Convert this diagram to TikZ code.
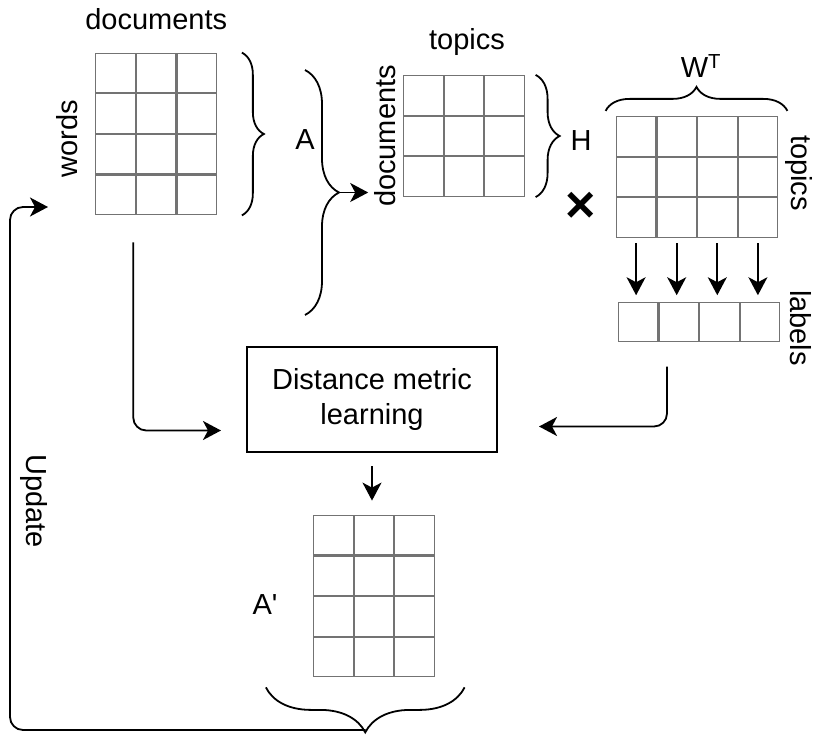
\documentclass[tikz,border=0pt]{standalone}
\usepackage{fontspec}
\setmainfont{Liberation Sans}
\usetikzlibrary{positioning, arrows.meta, matrix, decorations.pathreplacing}
\tikzset{
	x = 1pt,
	y = -1pt,
	font = \fontsize{29}{35}\selectfont,
	>={Stealth[length=18pt, width=19pt, inset=5pt]},
	cell/.style={
		draw=black,
		draw opacity=.55,
		line width=1.1pt,
		minimum size=39.5pt,
		inner sep=0pt,
		outer sep=0pt
	},
	grid/.style={
		matrix of nodes,
		nodes in empty cells,
		nodes={cell},
		column sep=0pt,
		row sep=0pt,
		inner sep=0pt
	},
	lbl/.style={inner sep=0pt},
	flow/.style={
		->,
		line width=1.8pt,
		rounded corners=13pt
	},
	brace/.style={
		decorate,
		decoration={brace, amplitude=#1},
		line width=1.8pt
	},
	process/.style={
		draw,
		line width=2pt,
		minimum width=250pt,
		minimum height=105pt,
		align=center
	}
}

\begin{document}
\begin{tikzpicture}
	\useasboundingbox (0,0) rectangle (814,735);

	% matrices
	\matrix (A) [grid] at (156.25,134) {& & \\ & & \\ & & \\ & & \\};
	\matrix (H) [grid] at (464,136) {& & \\ & & \\ & & \\};
	\matrix (W) [grid] at (697,177) {& & & \\ & & & \\ & & & \\};
	\matrix (L) [grid] at (699,322) {& & & \\};
	\matrix (Ap) [grid] at (374,596) {& & \\ & & \\ & & \\ & & \\};
	\node[process] (dml) at (372,399.5) {Distance metric\\learning};

	% labels
	\node[lbl] (docA) [above=23pt of A] {documents};
	\node[lbl, rotate=90, anchor=south] (words) at ([xshift=-17pt, yshift=-5pt]A.west) {words};
	\node[lbl] (Alab) at (305,140) {A};
	\node[lbl, rotate=90, anchor=south] (docH) at ([xshift=-7pt]H.west) {documents};
	\node[lbl, anchor=base] (topH) at ([xshift=3pt, yshift=25pt]H.north) {topics};
	\node[lbl] (Hlab) at (581,141) {H};
	\node[lbl, font=\fontsize{52}{52}\bfseries\selectfont] (times) at (581,207) {×};
	\node[lbl, anchor=base] (WT) at ([xshift=4pt, yshift=38pt]W.north) {W\textsuperscript{T}};
	\node[lbl, rotate=-90, anchor=base] (topW) at ([xshift=13pt, yshift=4pt]W.east) {topics};
	\node[lbl, rotate=-90, anchor=base] (labL) at ([xshift=10pt, yshift=-6pt]L.east) {labels};
	\node[lbl] (Aplab) at (265,605) {A\textquotesingle};
	\node[lbl, rotate=-90] (upd) at (34,501) {Update};

	% braces
	\draw[brace=22] ([xshift=24.5pt]A.north east) -- ([xshift=24.5pt]A.south east);
	\draw[brace=34] (305,70) -- (305,315);
	\draw[brace=24] ([xshift=10.5pt]H.north east) -- ([xshift=10.5pt]H.south east);
	\draw[brace=24] ([shift={(-10,-5)}]W.north west) -- ([shift={(9,-5)}]W.north east);
	\draw[brace=45] ([shift={(29.5,10)}]Ap.south east) -- ([shift={(-47,10)}]Ap.south west);

	% connectors
	\coordinate (bigtip) at (339,192.5);
	\coordinate (aptip) at (365.5,730);
	\coordinate (wordsin) at (48,207);
	\draw[flow, shorten >=6pt] (bigtip) -- (bigtip -| docH.north);
	\draw[flow] ([xshift=-23pt, yshift=-27pt]A.south) |- ([xshift=-25pt, yshift=-31pt]dml.west);
	\draw[flow] ([xshift=-32pt, yshift=-24pt]L.south) |- ([xshift=41pt, yshift=-27pt]dml.east);
	\foreach \j in {1,...,4}
		\draw[flow, shorten <=6pt, shorten >=7pt] (W-3-\j.south) -- (W-3-\j.south |- L-1-\j.north);
	\draw[flow, shorten <=13pt, shorten >=14pt] (dml.south) -- (dml.south |- Ap.north);
	\draw[flow] (aptip) -| (10,207) -- (wordsin);
\end{tikzpicture}
\end{document}
